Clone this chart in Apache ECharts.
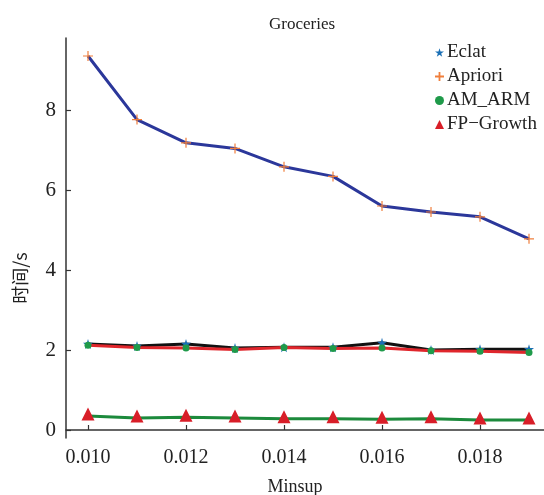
<!DOCTYPE html>
<html>
<head>
<meta charset="utf-8">
<script src="https://cdn.jsdelivr.net/npm/echarts@6/dist/echarts.min.js"></script>
<style>
  html, body { margin: 0; padding: 0; background: #fff; }
  #main { width: 544px; height: 495px; }
</style>
</head>
<body>
<div id="main"></div>
<script>
var chartDom = document.getElementById('main');
var myChart = echarts.init(chartDom);
var option;

// minimum support values
var minsup = [0.010, 0.011, 0.012, 0.013, 0.014, 0.015, 0.016, 0.017, 0.018, 0.019];
// running time (s)
var eclat = [2.15, 2.10, 2.15, 2.05, 2.07, 2.07, 2.18, 2.00, 2.02, 2.02];
var apriori = [9.35, 7.76, 7.18, 7.04, 6.58, 6.34, 5.60, 5.45, 5.33, 4.78];
var amArm = [2.12, 2.06, 2.05, 2.01, 2.06, 2.04, 2.05, 1.98, 1.97, 1.94];
var fpGrowth = [0.35, 0.30, 0.32, 0.30, 0.28, 0.28, 0.27, 0.28, 0.25, 0.25];
var yTicks = [0, 2, 4, 6, 8];
var xTicks = [0.010, 0.012, 0.014, 0.016, 0.018];

var starPath = 'path://M50,0 L61,35 L98,35 L68,57 L79,91 L50,70 L21,91 L32,57 L2,35 L39,35 Z';
var plusPath = 'path://M4.4,0H5.6V4.4H10V5.6H5.6V10H4.4V5.6H0V4.4H4.4Z';
var plusBold = 'path://M4,0H6V4H10V6H6V10H4V6H0V4H4Z';
var serif = '"Liberation Serif", "DejaVu Serif", serif';

function pairs(ys) {
    return ys.map(function (y, i) { return [minsup[i], y]; });
}

option = {
    animation: false,
    title: {
        text: 'Groceries',
        left: 297,
        top: 11,
        textAlign: 'center',
        textStyle: { fontFamily: serif, fontWeight: 'normal', fontSize: 17, color: '#222' }
    },
    legend: {
        left: 430,
        top: 38,
        orient: 'vertical',
        itemGap: 5,
        itemWidth: 9,
        itemHeight: 9,
        textStyle: { fontFamily: serif, fontSize: 19, color: '#222', padding: [0, 0, 0, -2] },
        data: [
            { name: 'Eclat', icon: starPath, itemStyle: { color: '#1a6fb5' } },
            { name: 'Apriori', icon: plusBold, itemStyle: { color: '#f07f3c' } },
            { name: 'AM_ARM', icon: 'circle', itemStyle: { color: '#1f9a4a' } },
            { name: 'FP−Growth', icon: 'triangle', itemStyle: { color: '#d81e28' } }
        ]
    },
    grid: { left: 66, right: 0, top: 38, bottom: 57, outerBoundsMode: 'none' },
    xAxis: {
        type: 'value',
        min: 0.009551,
        max: 0.019306,
        name: 'Minsup',
        nameLocation: 'middle',
        nameGap: 40,
        nameTextStyle: { fontFamily: serif, fontSize: 18, color: '#222', padding: [0, 20, 0, 0] },
        splitLine: { show: false },
        axisLine: { lineStyle: { color: '#333', width: 1.5 } },
        axisTick: { show: true, inside: true, length: 5, customValues: xTicks, lineStyle: { color: '#333', width: 1.2 } },
        axisLabel: {
            customValues: xTicks,
            margin: 10,
            fontFamily: serif, fontSize: 20, color: '#222',
            formatter: function (v) { return v.toFixed(3); }
        }
    },
    yAxis: {
        type: 'value',
        min: -0.2,
        max: 9.8,
        splitLine: { show: false },
        axisLine: { show: true, lineStyle: { color: '#333', width: 1.5 } },
        axisTick: { show: true, inside: true, length: 5, customValues: yTicks, lineStyle: { color: '#333', width: 1.2 } },
        axisLabel: { customValues: yTicks, margin: 10, fontFamily: serif, fontSize: 21, color: '#222' }
    },
    graphic: [{
        type: 'text',
        x: 20,
        y: 278,
        rotation: Math.PI / 2,
        style: {
            text: '时间/s',
            font: '18px "Noto Sans CJK SC", sans-serif',
            fill: '#222',
            align: 'center',
            verticalAlign: 'middle'
        }
    }],
    series: [
        {
            name: 'Apriori',
            type: 'line',
            data: pairs(apriori),
            symbol: plusPath,
            symbolSize: 10,
            itemStyle: { color: '#f07f3c' },
            lineStyle: { color: '#2b379a', width: 3 },
            z: 2
        },
        {
            name: 'AM_ARM',
            type: 'line',
            data: pairs(amArm),
            symbol: 'circle',
            symbolSize: 7,
            itemStyle: { color: '#1f9a4a' },
            lineStyle: { color: '#e0262c', width: 3 },
            z: 2
        },
        {
            name: 'Eclat',
            type: 'line',
            data: pairs(eclat),
            symbol: starPath,
            symbolSize: 10,
            itemStyle: { color: '#1a6fb5' },
            lineStyle: { color: '#111', width: 3 },
            z: 1
        },
        {
            name: 'FP−Growth',
            type: 'line',
            data: pairs(fpGrowth),
            symbol: 'triangle',
            symbolSize: 13,
            symbolOffset: [0, -2],
            itemStyle: { color: '#d81e28' },
            lineStyle: { color: '#1c8a3c', width: 3 },
            z: 2
        }
    ]
};

option && myChart.setOption(option);
</script>
</body>
</html>
